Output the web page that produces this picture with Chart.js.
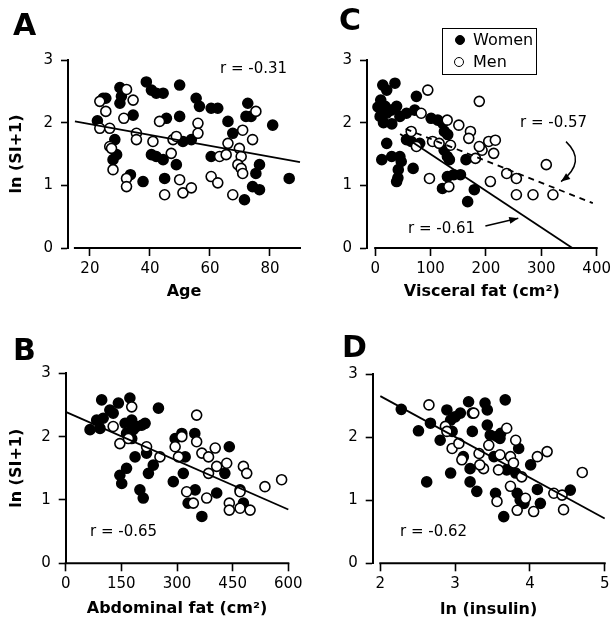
<!DOCTYPE html>
<html><head><meta charset="utf-8">
<script src="https://cdn.jsdelivr.net/npm/chart.js@4.4.1/dist/chart.umd.min.js"></script>
<style>
html,body{margin:0;padding:0;background:#fff;}
body{width:615px;height:623px;position:relative;overflow:hidden;font-family:"DejaVu Sans",sans-serif;color:#000;}
canvas{position:absolute;}
.t{position:absolute;white-space:nowrap;font-size:15px;line-height:15px;}
.p{position:absolute;font-weight:bold;font-size:30px;line-height:30px;}
.lg{position:absolute;white-space:nowrap;font-size:16px;line-height:16px;}
.dot{position:absolute;width:10px;height:10px;border-radius:50%;box-sizing:border-box;border:1.5px solid #000;}
#legbox{position:absolute;left:442px;top:28px;width:95px;height:47px;border:1.5px solid #000;box-sizing:border-box;}
</style></head><body>
<canvas id="cA" width="307" height="310" style="left:0;top:0"></canvas>
<canvas id="cC" width="308" height="310" style="left:307px;top:0"></canvas>
<canvas id="cB" width="307" height="313" style="left:0;top:310px"></canvas>
<canvas id="cD" width="308" height="313" style="left:307px;top:310px"></canvas>
<div id="legbox"></div>
<script>
// ---------------- data ----------------
const seriesNames = ["Women", "Men"];
const yTicks = [0, 1, 2, 3];

// Panel A: Age
const ticksA = [20, 40, 60, 80];
const womenA = [[25.3,2.39],[30,2.56],[30.5,2.42],[30,2.31],[34.4,2.12],[22.5,2.03],[28.3,1.73],[28.9,1.49],[27.7,1.41],[33.5,1.17],[37.7,1.06],[38.8,2.65],[40.5,2.52],[42.1,2.47],[44.4,2.47],[40.5,1.49],[44.4,1.41],[42.1,1.46],[45.5,2.07],[49.9,2.10],[49.9,2.60],[48.8,1.33],[44.9,1.11],[51,1.70],[53.8,1.73],[55.4,2.39],[56.5,2.26],[60.4,2.23],[62.6,2.23],[66,2.02],[67.6,1.83],[60.4,1.46],[72.6,2.31],[72,2.10],[73.7,2.10],[80.9,1.96],[76.5,1.33],[75.3,1.19],[74.2,0.98],[76.5,0.93],[71.5,0.77],[86.4,1.11],[24.4,2.39]];
const menA = [[23.3,2.34],[25.3,2.18],[23.3,1.91],[26.6,1.91],[26.6,1.62],[27.2,1.59],[27.7,1.25],[32.2,2.53],[34.4,2.36],[31.3,2.07],[32.2,1.11],[32.2,0.98],[35.5,1.83],[35.5,1.73],[41,1.70],[43.2,2.02],[47.7,1.73],[48.8,1.78],[47.1,1.51],[49.9,1.09],[51,0.88],[53.8,0.96],[44.9,0.85],[56,1.99],[56,1.83],[60.4,1.14],[62.6,1.04],[63.2,1.46],[65.4,1.49],[66,1.67],[67.6,0.85],[69.8,1.59],[70.4,1.46],[69.3,1.33],[70.4,1.27],[70.9,1.19],[70.9,1.88],[74.2,1.73],[75.3,2.18]];
const fitA = [[15,2.02],[90,1.37]];

// Panel C: Visceral fat
const ticksC = [0, 100, 200, 300, 400];
const womenC = [[13.7,2.60],[35.7,2.63],[20.8,2.52],[10,2.36],[17.9,2.26],[8.9,2.10],[20.8,2.15],[29,2.20],[38.7,2.26],[44.6,2.10],[56.5,2.15],[71.4,2.20],[74.4,2.42],[5,2.25],[15,2.0],[30,1.98],[20.8,1.67],[11.9,1.41],[29.8,1.46],[44.6,1.46],[41.7,1.25],[38.7,1.06],[41,1.12],[68.5,1.27],[56.5,1.73],[80.4,1.67],[65,1.70],[101,2.07],[113,2.04],[122,1.99],[125,1.86],[131,1.81],[124.5,1.56],[130.4,1.46],[134,1.41],[121.5,0.95],[130.4,1.14],[142,1.17],[154,1.17],[164,1.41],[167,0.74],[179,0.93],[47,1.38]];
const menC = [[95,2.52],[83,2.15],[65,1.86],[74.4,1.62],[103.6,1.70],[115.5,1.67],[98,1.11],[130,2.04],[151,1.96],[172,1.86],[169,1.75],[188,2.34],[181,1.43],[193,1.56],[205,1.70],[217,1.72],[214,1.51],[208,1.06],[237.5,1.19],[255,1.11],[255,0.85],[285,0.85],[321,0.85],[309,1.33],[133,0.98],[136,1.64],[188,1.62]];
const fitCwomen = [[45,1.82],[356,0]];
const fitCmen = [[55,1.90],[393,0.715]];

// Panel B: Abdominal fat
const ticksB = [0, 150, 300, 450, 600];
const womenB = [[65.6,2.11],[97,2.58],[83.5,2.26],[101,2.29],[92.5,2.13],[119,2.42],[142,2.53],[128,2.37],[173,2.61],[160,2.21],[178,2.26],[182,2.11],[164,2.05],[191,2.16],[205,2.18],[214,2.21],[178,1.97],[187,1.68],[218,1.74],[236,1.55],[223,1.42],[250,2.45],[164,1.50],[146,1.39],[151,1.26],[200,1.16],[209,1.03],[290,1.29],[295,1.97],[313,2.05],[322,1.68],[317,1.42],[348,2.05],[330,0.95],[349,1.16],[367,0.74],[407,1.11],[429,1.42],[441,1.84],[470,1.16],[479,0.95]];
const menB = [[128,2.16],[146,1.89],[178,2.47],[169,1.97],[218,1.84],[254,1.68],[295,1.84],[304,1.68],[313,2.0],[353,2.34],[353,1.92],[367,1.74],[385,1.68],[403,1.82],[385,1.42],[407,1.53],[434,1.58],[479,1.53],[488,1.42],[537,1.21],[582,1.32],[326,1.13],[344,0.95],[380,1.03],[441,0.95],[441,0.84],[470,0.87],[497,0.84],[470,1.13]];
const fitB = [[0,2.39],[600,0.85]];

// Panel D: ln (insulin)
const ticksD = [2, 3, 4, 5];
const womenD = [[2.28,2.44],[2.51,2.10],[2.67,2.22],[2.62,1.29],[2.80,1.95],[2.89,2.43],[2.94,2.27],[3.0,2.32],[2.96,2.09],[2.94,1.43],[3.07,2.38],[3.18,2.56],[3.23,2.38],[3.23,2.09],[3.11,1.69],[3.2,1.50],[3.2,1.29],[3.29,1.14],[3.40,2.54],[3.43,2.43],[3.43,2.19],[3.47,2.03],[3.56,2.01],[3.61,2.06],[3.52,1.69],[3.67,2.59],[3.54,1.11],[3.65,0.74],[3.69,1.48],[3.81,1.43],[3.85,1.82],[3.83,1.11],[3.87,1.00],[3.92,0.95],[4.01,1.56],[4.10,1.17],[4.14,0.95],[4.54,1.16],[3.6,1.98]];
const menD = [[2.65,2.51],[2.87,2.17],[2.96,1.82],[3.05,1.90],[3.09,1.64],[3.25,2.38],[3.32,1.74],[3.38,1.50],[3.45,1.87],[3.58,1.48],[3.60,1.72],[3.69,2.14],[3.74,1.69],[3.81,1.95],[3.78,1.59],[3.74,1.22],[3.89,1.37],[3.83,0.84],[3.94,1.03],[4.05,0.82],[4.10,1.69],[4.23,1.77],[4.32,1.11],[4.43,1.08],[4.45,0.85],[4.70,1.44],[3.56,0.98],[2.89,2.09],[3.33,1.56]];
const fitD = [[2,2.65],[5,0.71]];

const rLabels = ["r = -0.31", "r = -0.57", "r = -0.61", "r = -0.65", "r = -0.62"];
const panelLetters = ["A", "C", "B", "D"];

// ---------------- rendering ----------------
Chart.defaults.font.family = '"DejaVu Sans", sans-serif';
Chart.defaults.color = '#000';

const toXY = a => a.map(p => ({x: p[0], y: p[1]}));

const axisLine = {
  id: 'axisLine',
  beforeDatasetsDraw(chart, args, o) {
    const {ctx, scales: {x, y}} = chart;
    const py = y.getPixelForValue(0);
    ctx.save();
    ctx.strokeStyle = '#000';
    ctx.lineWidth = 2;
    ctx.beginPath();
    ctx.moveTo(x.getPixelForValue(o.from) - 1, py);
    ctx.lineTo(x.getPixelForValue(o.to) + 1, py);
    ctx.stroke();
    ctx.restore();
  }
};

function head(ctx, x0, y0, x1, y1) {
  const a = Math.atan2(y1 - y0, x1 - x0), L = 9, W = 3.5;
  ctx.beginPath();
  ctx.moveTo(x1, y1);
  ctx.lineTo(x1 - L * Math.cos(a) + W * Math.sin(a), y1 - L * Math.sin(a) - W * Math.cos(a));
  ctx.lineTo(x1 - L * Math.cos(a) - W * Math.sin(a), y1 - L * Math.sin(a) + W * Math.cos(a));
  ctx.closePath();
  ctx.fill();
}
const arrows = {
  id: 'arrows',
  afterDraw(chart, args, o) {
    if (!o.list) return;
    const {ctx, scales: {x, y}} = chart;
    ctx.save();
    ctx.strokeStyle = '#000'; ctx.fillStyle = '#000'; ctx.lineWidth = 1.5;
    o.list.forEach(ar => {
      const P = ar.map(p => [x.getPixelForValue(p[0]), y.getPixelForValue(p[1])]);
      ctx.beginPath();
      ctx.moveTo(P[0][0], P[0][1]);
      if (P.length === 3) ctx.quadraticCurveTo(P[1][0], P[1][1], P[2][0], P[2][1]);
      else ctx.lineTo(P[1][0], P[1][1]);
      ctx.stroke();
      const n = P.length;
      head(ctx, P[n - 2][0], P[n - 2][1], P[n - 1][0], P[n - 1][1]);
    });
    ctx.restore();
  }
};

function makePanel(cfg) {
  const el = document.getElementById(cfg.id);
  const W = el.width, H = el.height, A = cfg.area;
  const ds = [];
  cfg.fits.forEach(f => ds.push({
    type: 'line', data: toXY(f.data), borderColor: '#000', borderWidth: 1.8,
    borderDash: f.dash || [], pointRadius: 0, fill: false, order: 0, clip: false
  }));
  ds.push({label: seriesNames[1], data: toXY(cfg.men), backgroundColor: '#fff', borderColor: '#000',
    borderWidth: 1.6, pointRadius: 5, order: 1, clip: false});
  ds.push({label: seriesNames[0], data: toXY(cfg.women), backgroundColor: '#000', borderColor: '#000',
    borderWidth: 1.6, pointRadius: 5, order: 2, clip: false});
  return new Chart(el, {
    type: 'scatter',
    data: {datasets: ds},
    plugins: [axisLine, arrows],
    options: {
      responsive: false, animation: false, events: [],
      layout: {padding: {left: 0, top: A.t, right: W - A.r, bottom: 0}},
      plugins: {
        legend: {display: false}, tooltip: {enabled: false},
        axisLine: {from: cfg.xLine[0], to: cfg.xLine[1]},
        arrows: {list: cfg.arrows || null}
      },
      scales: {
        x: {
          type: 'linear', min: cfg.xMin, max: cfg.xMax,
          afterFit: s => { s.height = H - A.b; },
          afterBuildTicks: s => { s.ticks = cfg.xTicks.map(v => ({value: v})); },
          grid: {drawOnChartArea: false, drawTicks: true, tickLength: 8, tickColor: '#000', tickWidth: 1.6, color: '#000'},
          border: {display: false},
          ticks: {padding: 4, font: {size: 15}, color: '#000', maxRotation: 0, autoSkip: false},
          title: {display: true, text: cfg.xTitle, font: {size: 16, weight: 'bold'}, color: '#000',
                  padding: {top: 0, bottom: cfg.xTitlePad}}
        },
        y: {
          type: 'linear', min: 0, max: 3,
          afterFit: s => { s.width = A.l; },
          afterBuildTicks: s => { s.ticks = yTicks.map(v => ({value: v})); },
          grid: {drawOnChartArea: false, drawTicks: true, tickLength: 7, tickColor: '#000', tickWidth: 1.6, color: '#000'},
          border: {display: true, color: '#000', width: 2},
          ticks: {padding: 8, font: {size: 15}, color: '#000'},
          title: {display: !!cfg.yTitle, text: cfg.yTitle || '', font: {size: 16, weight: 'bold'}, color: '#000',
                  padding: {top: 7.5, bottom: 0}}
        }
      }
    }
  });
}

makePanel({id: 'cA', area: {l: 68, t: 60, r: 300, b: 248}, xMin: 12.7, xMax: 90, xLine: [15, 90],
  xTicks: ticksA, xTitle: 'Age', yTitle: 'ln (SI+1)', xTitlePad: 9,
  women: womenA, men: menA, fits: [{data: fitA}]});
makePanel({id: 'cC', area: {l: 60, t: 60, r: 292.3, b: 248}, xMin: -14.8, xMax: 400, xLine: [0, 400],
  xTicks: ticksC, xTitle: 'Visceral fat (cm²)', yTitle: null, xTitlePad: 9,
  women: womenC, men: menC, fits: [{data: fitCwomen}, {data: fitCmen, dash: [6, 5]}],
  arrows: [[[199, 0.352], [258.4, 0.475]], [[344.6, 1.697], [382.7, 1.378], [335.7, 1.06]]]});
makePanel({id: 'cB', area: {l: 65.7, t: 63.3, r: 288.3, b: 253.3}, xMin: 0, xMax: 600, xLine: [0, 600],
  xTicks: ticksB, xTitle: 'Abdominal fat (cm²)', yTitle: 'ln (SI+1)', xTitlePad: 5,
  women: womenB, men: menB, fits: [{data: fitB}]});
makePanel({id: 'cD', area: {l: 65.7, t: 64, r: 297.7, b: 253.3}, xMin: 1.898, xMax: 5, xLine: [2, 5],
  xTicks: ticksD, xTitle: 'ln (insulin)', yTitle: null, xTitlePad: 4,
  women: womenD, men: menD, fits: [{data: fitD}]});

// text annotations
function addDiv(cls, text, left, top) {
  const d = document.createElement('div');
  d.className = cls; d.textContent = text;
  d.style.left = left + 'px'; d.style.top = top + 'px';
  document.body.appendChild(d);
  return d;
}
const rPos = [[220, 61], [520, 114.5], [408, 221], [90, 524], [400, 524]];
rLabels.forEach((t, i) => addDiv('t', t, rPos[i][0], rPos[i][1]));
const pPos = [[13, 9.8], [339, 4.8], [13, 334.8], [342, 331.5]];
panelLetters.forEach((t, i) => addDiv('p', t, pPos[i][0], pPos[i][1]));

// legend
const legFill = ['#000', '#fff'];
const legPos = [[455, 35, 473, 32.3], [453.7, 56.7, 473, 54]];
seriesNames.forEach((n, i) => {
  const d = addDiv('dot', '', legPos[i][0], legPos[i][1]);
  d.style.background = legFill[i];
  addDiv('lg', n, legPos[i][2], legPos[i][3]);
});
</script>
</body></html>
